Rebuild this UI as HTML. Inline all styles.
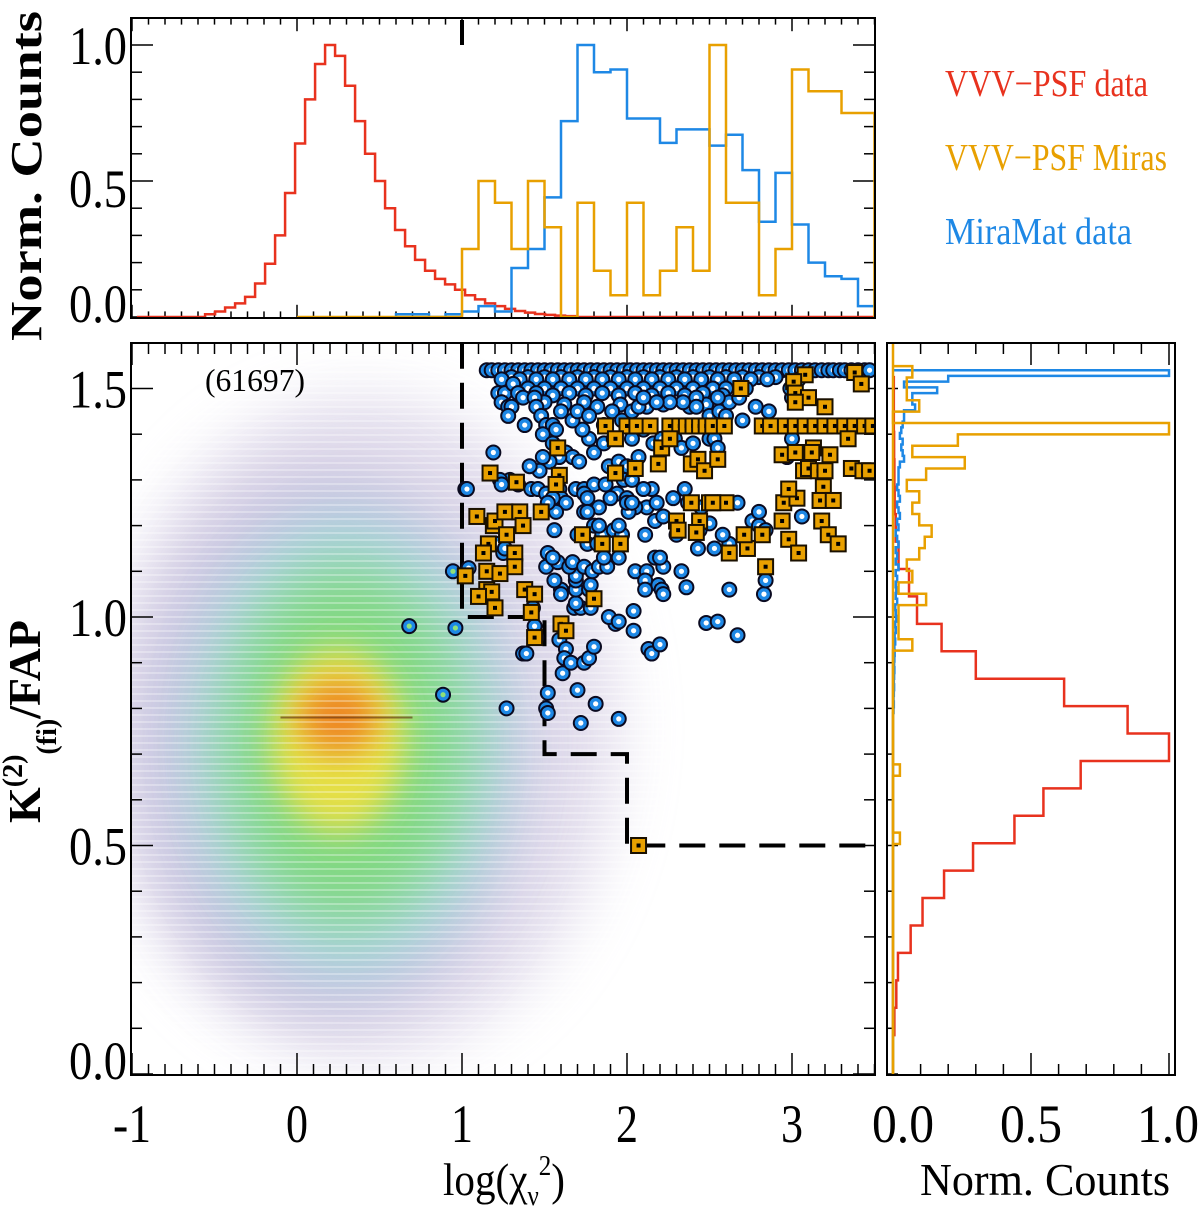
<!DOCTYPE html>
<html><head><meta charset="utf-8"><style>
html,body{margin:0;padding:0;background:#fff;}
svg{display:block;font-family:"Liberation Serif",serif;}
</style></head><body>
<svg id="chart" width="1200" height="1215" viewBox="0 0 1200 1215" xmlns="http://www.w3.org/2000/svg">
<defs>
<filter id="blur1" x="-50%" y="-50%" width="200%" height="200%"><feGaussianBlur stdDeviation="30"/></filter>
<filter id="blur2" x="-50%" y="-50%" width="200%" height="200%"><feGaussianBlur stdDeviation="16"/></filter>
<clipPath id="mainClip"><rect x="131" y="343" width="744" height="732"/></clipPath>
<clipPath id="topClip"><rect x="131" y="18" width="744" height="300"/></clipPath>
<clipPath id="rightClip"><rect x="887" y="343" width="288" height="732"/></clipPath>
<pattern id="stripes" width="10" height="7" patternUnits="userSpaceOnUse"><rect width="10" height="2" fill="#fff"/></pattern>
</defs>
<g id="density" clip-path="url(#mainClip)"></g>
<g id="main"></g>
<g id="top"></g>
<g id="right"></g>
<g id="labels">
<text transform="translate(41,176) rotate(-90)" text-anchor="middle" font-size="44" font-weight="bold" textLength="330" lengthAdjust="spacingAndGlyphs">Norm. Counts</text>
<text transform="translate(40,823) rotate(-90)" font-size="46" font-weight="bold">K<tspan font-size="28" dy="-18">(2)</tspan><tspan font-size="28" dy="34">(fi)</tspan><tspan dy="-16">/FAP</tspan></text>
<text x="443" y="1195" font-size="46" textLength="122" lengthAdjust="spacingAndGlyphs">log(χ<tspan font-size="28" dy="10">ν</tspan><tspan font-size="28" dy="-30">2</tspan><tspan dy="20">)</tspan></text>
<text x="920" y="1195" font-size="46" textLength="250" lengthAdjust="spacingAndGlyphs">Norm. Counts</text>
<text x="205" y="391" font-size="32" textLength="100" lengthAdjust="spacingAndGlyphs">(61697)</text>
<text x="945" y="96" font-size="38" fill="#e8321e" textLength="203" lengthAdjust="spacingAndGlyphs">VVV−PSF data</text>
<text x="945" y="170" font-size="38" fill="#e8a000" textLength="222" lengthAdjust="spacingAndGlyphs">VVV−PSF Miras</text>
<text x="945" y="244" font-size="38" fill="#1e88e5" textLength="187" lengthAdjust="spacingAndGlyphs">MiraMat data</text>
</g>
</svg>
<script>
// ---- data ----
const topRedStart = -0.557, topRedWidth = 0.0606;
const topRedCounts = [0.01,0.02,0.035,0.05,0.074,0.123,0.196,0.30,0.456,0.638,0.80,0.93,1.0,0.96,0.85,0.72,0.6,0.5,0.4,0.32,0.26,0.21,0.17,0.14,0.12,0.1,0.08,0.065,0.05,0.04,0.03,0.022,0.016,0.011,0.008,0.005,0.003];
const topBlueStart = 0.6, topBlueWidth = 0.1;
const topBlueCounts = [0.01,0.01,0.0,0.01,0.02,0.04,0.02,0.18,0.25,0.44,0.72,1.0,0.9,0.91,0.73,0.73,0.64,0.69,0.69,0.63,0.67,0.54,0.35,0.53,0.34,0.2,0.15,0.14,0.04,0.09];
const topOrangeStart = 1.0, topOrangeWidth = 0.1;
const topOrangeCounts = [0.25,0.5,0.42,0.25,0.5,0.33,0,0.42,0.17,0.08,0.42,0.08,0.17,0.33,0.17,1.0,0.42,0.42,0.08,0.25,0.91,0.83,0.83,0.75,0.75];

const rightRedStart = 0.085, rightRedWidth = 0.06;
const rightRedCounts = [0.005,0.012,0.018,0.064,0.107,0.185,0.29,0.44,0.545,0.68,1.0,0.85,0.62,0.30,0.176,0.087,0.058,0.02,0.01,0.006,0.005,0.004,0.003,0.003];
const rightOrangeTop = 1.549, rightOrangeWidth = 0.0249;
const rightOrangeCounts = [0.07,0.05,0.05,0.095,0,1.0,0.235,0.07,0.26,0.12,0.05,0.095,0.07,0.095,0.14,0.115,0.095,0.05,0.07,0.02,0.12,0.02,0.02,0.02,0.07,0,0,0,0,0,0,0,0,0,0,0.025,0,0,0,0,0,0.025,0];
const rightBlueTop = 1.54, rightBlueWidth = 0.0125;
const rightBlueCounts = [1.0,0.2,0.04,0.16,0.07,0.07,0.08,0.04,0.04,0.035,0.03,0.025,0.035,0.03,0.035,0.04,0.025,0.02,0.02,0.02,0.015,0.02,0.025,0.015,0.02,0.025,0.015,0.02,0.01,0.015,0.02,0.01,0.015,0.01,0.02,0.01,0.015,0.01,0.012,0.01,0.015,0.008,0.01,0.012,0.008,0.01,0.006,0.008,0.005,0.006,0.005,0.004,0.005,0.004,0.003,0.004,0.003,0.002,0.003,0.002];

const bluePoints = [
[1.15,1.54],[1.18,1.54],[1.22,1.54],[1.26,1.54],[1.3,1.54],[1.34,1.54],[1.38,1.54],[1.42,1.54],[1.46,1.54],[1.5,1.54],[1.54,1.54],[1.58,1.54],[1.62,1.54],[1.66,1.54],[1.7,1.54],[1.74,1.54],[1.78,1.54],[1.82,1.54],[1.86,1.54],[1.9,1.54],[1.94,1.54],[1.98,1.54],[2.02,1.54],[2.06,1.54],[2.1,1.54],[2.14,1.54],[2.18,1.54],[2.22,1.54],[2.26,1.54],[2.3,1.54],[2.34,1.54],[2.38,1.54],[2.42,1.54],[2.46,1.54],[2.5,1.54],[2.54,1.54],[2.58,1.54],[2.62,1.54],[2.66,1.54],[2.7,1.54],[2.74,1.54],[2.78,1.54],[2.82,1.54],[2.86,1.54],[2.9,1.54],[2.94,1.54],[2.98,1.54],[3.02,1.54],[3.06,1.54],[3.1,1.54],[3.14,1.54],[3.18,1.54],[3.22,1.54],[3.25,1.54],[3.29,1.54],[3.32,1.54],[3.36,1.54],[3.4,1.54],[3.44,1.54],[3.47,1.54],
[1.3,1.525],[1.4,1.525],[1.5,1.525],[1.6,1.525],[1.7,1.525],[1.8,1.525],[1.9,1.525],[2.0,1.525],[2.1,1.525],[2.2,1.525],[2.3,1.525],[2.4,1.525],[2.5,1.525],[2.6,1.525],[2.7,1.525],[2.8,1.525],[2.9,1.525],
[1.24,1.52],[1.35,1.52],[1.45,1.52],[1.55,1.52],[1.65,1.52],[1.75,1.52],[1.85,1.52],[1.95,1.52],[2.05,1.52],[2.15,1.52],[2.25,1.52],[2.35,1.52],[2.45,1.52],[2.55,1.52],[2.65,1.52],[2.75,1.52],[2.85,1.52],
[1.4,1.5],[1.5,1.5],[1.6,1.5],[1.7,1.5],[1.8,1.5],[1.9,1.5],[2.0,1.5],[2.1,1.5],[2.2,1.5],[2.3,1.5],[2.4,1.5],[2.52,1.5],[2.6,1.5],[2.72,1.5],
[1.45,1.49],[1.55,1.485],[1.65,1.49],[1.75,1.485],[1.85,1.49],[1.95,1.485],[2.05,1.49],[2.15,1.485],[2.25,1.49],[2.35,1.485],[2.46,1.49],[2.58,1.485],
[1.5,1.47],[1.62,1.465],[1.74,1.47],[1.82,1.46],[1.96,1.465],[2.12,1.46],[2.22,1.465],[2.38,1.46],[2.48,1.465],
[1.22,1.49],[1.26,1.49],[1.24,1.47],[1.28,1.46],[1.3,1.46],[1.28,1.44],[1.31,1.51],[1.34,1.49],[1.37,1.48],[1.38,1.42],[1.44,1.48],[1.45,1.46],[1.48,1.44],[1.51,1.42],[1.55,1.42],[1.49,1.40],[1.57,1.41],[1.55,1.38],[1.63,1.36],[1.67,1.35],[1.71,1.34],[1.59,1.35],[1.53,1.34],[1.49,1.35],[1.47,1.32],[1.41,1.33],[1.29,1.3],[1.23,1.3],[1.42,1.28],[1.46,1.28],[1.51,1.27],[1.59,1.28],[1.69,1.28],[1.74,1.28],[1.8,1.29],[1.87,1.29],[1.98,1.3],[2.03,1.3],[1.89,1.33],[1.95,1.34],[2.0,1.33],[2.07,1.35],[1.8,1.36],[1.86,1.38],[1.92,1.39],[1.77,1.39],[1.73,1.41],[1.67,1.43],[1.6,1.45],[1.7,1.45],[1.77,1.44],[1.86,1.42],[1.91,1.45],[1.97,1.43],[2.03,1.45],[2.07,1.46],[2.03,1.39],[2.1,1.41],[2.16,1.38],[2.21,1.39],[2.29,1.39],[2.33,1.37],[2.4,1.38],[2.5,1.39],[2.53,1.39],[2.55,1.37],[2.7,1.43],[2.5,1.44],[2.56,1.45],[2.6,1.44],[2.62,1.47],[2.55,1.48],[2.68,1.48],[2.78,1.46],[2.86,1.45],[3.0,1.48],[3.1,1.48],[2.99,1.5],[3.04,1.52],[3.0,1.39],[3.0,1.36],[2.97,1.35],[2.42,1.48],[2.34,1.47],[2.26,1.47],[2.18,1.47],[2.1,1.48],[2.42,1.46],[1.02,1.28],[1.19,1.36],
[0.68,0.98],[0.96,0.976],[0.885,0.83],[1.27,0.80],[0.945,1.10],[1.04,1.107],[1.03,1.28],[1.22,1.16],[1.25,1.14],[1.26,1.15],[1.52,0.834],[1.51,0.80],[1.52,0.79],[1.72,0.768],[1.81,0.81],[1.95,0.777],[1.70,0.84],[1.61,0.877],[1.37,0.92],[1.39,0.92],[1.59,0.95],[1.63,0.93],[1.62,0.91],[1.66,0.90],[1.74,0.90],[1.77,0.91],[1.8,0.935],[2.13,0.93],[2.15,0.92],[2.2,0.94],[2.48,0.987],[2.55,0.99],[2.67,0.96],[2.04,1.013],[2.04,0.97],[1.93,0.985],[1.89,1.0],[1.95,0.99],[1.43,1.02],[1.44,0.98],[1.45,0.955],[1.68,1.02],[1.72,1.02],[1.78,1.02],[1.69,1.03],[1.69,1.06],[1.69,1.08],[1.69,1.09],[1.77,1.06],[1.78,1.07],[1.60,1.06],[1.56,1.08],[1.6,1.05],[1.51,1.11],[1.58,1.12],[1.65,1.11],[1.52,1.14],[1.55,1.13],[1.67,1.12],[1.74,1.11],[1.79,1.10],[1.83,1.11],[1.88,1.11],[2.05,1.10],[2.12,1.10],[2.11,1.08],[2.11,1.06],[2.19,1.07],[2.21,1.06],[2.22,1.05],[2.36,1.065],[2.33,1.10],[2.22,1.11],[2.17,1.13],[2.2,1.13],[2.43,1.15],[2.53,1.15],[2.62,1.16],[2.62,1.06],[2.83,1.05],[2.84,1.08],[3.06,1.22],[2.76,1.21],[2.8,1.20],[2.84,1.19],[2.44,1.19],[2.5,1.205],[2.58,1.18],[2.3,1.18],[2.11,1.18],[2.17,1.21],[2.22,1.22],[2.12,1.24],[2.18,1.25],[2.28,1.26],[2.37,1.25],[2.45,1.24],[2.67,1.25],[2.35,1.28],[2.15,1.28],[2.1,1.28],[1.94,1.27],[2.0,1.26],[1.9,1.26],[1.83,1.24],[1.74,1.27],[1.76,1.26],[1.6,1.26],[1.63,1.25],[1.55,1.26],[1.74,1.23],[1.76,1.23],[1.57,1.23],[1.52,1.25],[1.56,1.19],[1.7,1.18],[1.76,1.16],[1.82,1.16],[1.85,1.18],[1.92,1.19],[1.97,1.18],[1.95,1.2],[1.8,1.2],[1.83,1.2],[1.86,1.13],[1.95,1.13],[2.05,1.24],[2.01,1.23],[2.0,1.25],[2.03,1.25],[1.24,1.29],[1.34,1.29],[2.8,1.23],[3.0,1.26]
];
const orangePoints = [
[3.08,1.53],[3.38,1.535],[3.42,1.51],[3.01,1.515],[3.02,1.49],[3.1,1.48],[3.02,1.47],[2.69,1.50],[3.2,1.46],
[1.87,1.418],[2.0,1.418],[2.06,1.418],[2.14,1.418],[2.26,1.418],[2.32,1.418],[2.36,1.418],[2.4,1.418],[2.44,1.418],[2.48,1.418],[2.52,1.418],[2.59,1.418],[2.82,1.418],[2.87,1.418],[2.96,1.418],[3.02,1.418],[3.08,1.418],[3.14,1.418],[3.2,1.418],[3.26,1.418],[3.32,1.418],[3.38,1.418],[3.44,1.418],[3.49,1.418],
[1.93,1.39],[2.21,1.37],[2.26,1.39],[3.34,1.39],[3.13,1.37],[3.12,1.36],[1.58,1.37],[2.94,1.355],[3.02,1.36],[3.23,1.355],[2.19,1.335],[2.39,1.335],[2.43,1.345],[2.47,1.32],[2.55,1.345],[3.07,1.32],[3.1,1.325],[3.16,1.32],[3.2,1.32],[3.36,1.325],[3.43,1.32],[3.47,1.32],[1.93,1.315],[2.05,1.325],[1.59,1.31],[1.17,1.315],[1.33,1.295],[1.57,1.29],[3.19,1.285],[3.17,1.255],[3.25,1.255],[2.5,1.25],[2.6,1.25],[3.18,1.21],[3.22,1.18],[3.28,1.16],[2.44,1.21],[2.42,1.185],[2.82,1.18],[2.73,1.15],
[1.09,1.22],[1.19,1.20],[1.2,1.21],[1.26,1.23],[1.16,1.16],[1.13,1.14],[1.27,1.18],[1.32,1.14],[1.32,1.11],[1.15,1.10],[1.02,1.09],[1.23,1.095],[1.15,1.06],[1.18,1.055],[1.1,1.045],[1.2,1.02],[1.35,1.23],[1.48,1.23],[1.37,1.20],[1.38,1.06],[1.44,1.05],[1.42,1.01],[1.44,0.955],[1.6,0.985],[1.63,0.97],[1.8,1.04],[1.73,1.18],[1.85,1.16],[1.96,1.16],[2.39,1.25],[2.52,1.25],[2.3,1.21],[2.31,1.19],[2.71,1.18],[2.62,1.14],[2.84,1.11],[2.94,1.21],[2.95,1.25],[3.03,1.26],[2.98,1.28],[2.98,1.17],[3.04,1.14],[2.07,0.50]
];
// dashed selection boundary vertices (logchi, K)
const cutX = [1.0,1.0,1.5,1.5,2.0,2.0,3.5];
const cutK = [1.6,1.0,1.0,0.7,0.7,0.5,0.5];

// ---- scales ----
const mx = v => 297 + 165*v;
const my = k => 617 - 457*(k-1);
const ty = c => 317 - 272*c;
const rx = c => 893 + 276*c;
const NS = 'http://www.w3.org/2000/svg';
function mk(tag, attrs, parent){ const e=document.createElementNS(NS,tag); for(const k in attrs) e.setAttribute(k,attrs[k]); parent.appendChild(e); return e; }

// ---- density map ----
const dens = document.getElementById('density');
const blobs = [
 {x:0.4,k:0.76,rx:1.55,rk:0.72,c:'#dcd6e8',o:0.85,f:'blur1'},
 {x:0.2,k:0.72,rx:1.2,rk:0.6,c:'#c4bedc',o:0.8,f:'blur1'},
 {x:0.3,k:0.72,rx:0.95,rk:0.5,c:'#a2d8e4',o:0.85,f:'blur1'},
 {x:0.3,k:0.72,rx:0.75,rk:0.4,c:'#7ed978',o:0.9,f:'blur1'},
 {x:0.25,k:0.73,rx:0.4,rk:0.2,c:'#f0e040',o:0.9,f:'blur2'},
 {x:0.25,k:0.78,rx:0.24,rk:0.08,c:'#f07a1a',o:0.85,f:'blur2'}
];
blobs.forEach(b=>{
  const e = mk('ellipse',{cx:mx(b.x),cy:my(b.k),rx:165*b.rx,ry:457*b.rk,fill:b.c,opacity:b.o,filter:'url(#'+b.f+')'},dens);
  
  
});
const st = mk('rect',{x:131,y:343,width:744,height:732,fill:'url(#stripes)',opacity:0.3},dens);


const dl = mk('line',{x1:mx(-0.1),x2:mx(0.7),y1:my(0.78),y2:my(0.78),stroke:'#5a2a10',"stroke-width":2,opacity:0.6},dens);



// ---- frames & ticks ----
function frame(g, x0,y0,x1,y1,name){
  const r = mk('rect',{x:x0,y:y0,width:x1-x0,height:y1-y0,fill:'none',stroke:'#000','stroke-width':2},g);
  
  
}
function tick(g,x1,y1,x2,y2){ const t=mk('line',{x1,y1,x2,y2,stroke:'#000','stroke-width':1.5},g);   }
function label(g,txt,x,y,len,name){
  const t=mk('text',{x,y,'font-size':54,'text-anchor':'middle',textLength:len,lengthAdjust:'spacingAndGlyphs'},g);
  t.textContent=txt;
  
  
}
const mainG = document.getElementById('main');
const topG = document.getElementById('top');
const rightG = document.getElementById('right');

for(let i=-10;i<=35;i++){
  const v=i/10, x=mx(v); if(x<131||x>875) continue;
  const L = (i%10===0)?22:11;
  tick(mainG,x,1075,x,1075-L); tick(mainG,x,343,x,343+L);
  tick(topG,x,318,x,318-L*0.6); tick(topG,x,18,x,18+L*0.6);
}
for(let i=0;i<=16;i++){
  const k=i/10, y=my(k); const L=(i%5===0)?22:11;
  tick(mainG,131,y,131+L,y); tick(mainG,875,y,875-L,y);
  tick(rightG,887,y,887+L*0.5,y);
}
for(let i=0;i<=10;i++){ const y=ty(i/10); const L=(i%5===0)?22:11; tick(topG,131,y,131+L,y); tick(topG,875,y,875-L,y); }
for(let i=0;i<=10;i++){ const x=rx(i/10); const L=(i%5===0)?22:11; tick(rightG,x,1075,x,1075-L); tick(rightG,x,343,x,343+L); }

['-1','0','1','2','3'].forEach((s,i)=>label(mainG,s,mx(i-1),1142,s.length>1?38:22,'x-tick-label'));
['0.0','0.5','1.0'].forEach((s,i)=>label(rightG,s,[903,1031,1168][i],1142,62,'right-x-tick-label'));
[['1.5',1.5,0],['1.0',1.0,0],['0.5',0.5,0],['0.0',0.0,-14]].forEach(a=>label(mainG,a[0],98,my(a[1])+19+a[2],58,'y-tick-label'));
[['1.0',45],['0.5',188],['0.0',303]].forEach(a=>label(topG,a[0],98,a[1]+19,58,'top-y-tick-label'));

// ---- top histograms ----
function vhist(g,start,w,counts,color,name,base0,base1){
  let d='M'+mx(base0)+','+ty(0)+' L'+mx(start)+','+ty(0);
  counts.forEach((c,i)=>{ const x0=mx(start+i*w), x1=mx(start+(i+1)*w); d+=' L'+x0+','+ty(c)+' L'+x1+','+ty(c); });
  const end=start+counts.length*w; d+=' L'+mx(end)+','+ty(0)+' L'+mx(base1)+','+ty(0);
  const p=mk('path',{d,fill:'none',stroke:color,'stroke-width':2.5,'clip-path':'url(#topClip)'},g);
  
  
}
vhist(topG,topRedStart,topRedWidth,topRedCounts,'#e8321e','top-hist-vvv-psf-data',-0.97,3.5);
vhist(topG,topBlueStart,topBlueWidth,topBlueCounts,'#1e88e5','top-hist-miramat-data',0.6,3.5);
vhist(topG,topOrangeStart,topOrangeWidth,topOrangeCounts,'#e8a000','top-hist-vvv-psf-miras',0.0,3.5);
const td = mk('line',{x1:mx(1),x2:mx(1),y1:20,y2:45,stroke:'#000','stroke-width':4},topG);


frame(topG,131,18,875,318,'top-panel-frame');

// ---- right histograms ----
function hhistUp(g,start,w,counts,color,name){
  let d='M'+rx(0)+','+my(start);
  counts.forEach((c,i)=>{ d+=' L'+rx(c)+','+my(start+i*w)+' L'+rx(c)+','+my(start+(i+1)*w); });
  d+=' L'+rx(0)+','+my(start+counts.length*w);
  const p=mk('path',{d,fill:'none',stroke:color,'stroke-width':2.5,'clip-path':'url(#rightClip)'},g);
  
  
}
function hhistDown(g,top,w,counts,color,name){
  let d='M'+rx(0)+','+my(top);
  counts.forEach((c,i)=>{ d+=' L'+rx(c)+','+my(top-i*w)+' L'+rx(c)+','+my(top-(i+1)*w); });
  d+=' L'+rx(0)+','+my(top-counts.length*w)+' L'+rx(0)+','+my(0);
  const p=mk('path',{d,fill:'none',stroke:color,'stroke-width':2.5,'clip-path':'url(#rightClip)'},g);
  
  
}
hhistUp(rightG,rightRedStart,rightRedWidth,rightRedCounts,'#e8321e','right-hist-vvv-psf-data');
hhistDown(rightG,rightBlueTop,rightBlueWidth,rightBlueCounts,'#1e88e5','right-hist-miramat-data');
hhistDown(rightG,rightOrangeTop,rightOrangeWidth,rightOrangeCounts,'#e8a000','right-hist-vvv-psf-miras');
const ob = mk('line',{x1:rx(0),x2:rx(0),y1:343,y2:1075,stroke:'#e8a000','stroke-width':2.5},rightG);


frame(rightG,887,343,1175,1075,'right-panel-frame');

// ---- dashed cut line ----
let cd='';
cutX.forEach((x,i)=>{ cd+=(i?' L':'M')+mx(x)+','+my(cutK[i]); });
const cut = mk('path',{d:cd,fill:'none',stroke:'#000','stroke-width':4,'stroke-dasharray':'26,14','clip-path':'url(#mainClip)'},mainG);



// ---- scatter ----
const sg = mk('g',{'clip-path':'url(#mainClip)'},mainG);
bluePoints.forEach(p=>{
  const cx=mx(p[0]), cy=my(p[1]);
  const c=mk('circle',{cx,cy,r:7,fill:'#1e88e5',stroke:'#0a0a20','stroke-width':2},sg);
  
  
  mk('circle',{cx,cy,r:2.6,fill:p[0]<1?'#8ee07a':'#fff'},sg);
});
orangePoints.forEach(p=>{
  const cx=mx(p[0]), cy=my(p[1]);
  const s=mk('rect',{x:cx-7.5,y:cy-7.5,width:15,height:15,fill:'#e8a000',stroke:'#1a1000','stroke-width':2},sg);
  
  
  mk('rect',{x:cx-2,y:cy-2,width:4,height:4,fill:'#000'},sg);
});
frame(mainG,131,343,875,1075,'main-panel-frame');
</script>
</body></html>
